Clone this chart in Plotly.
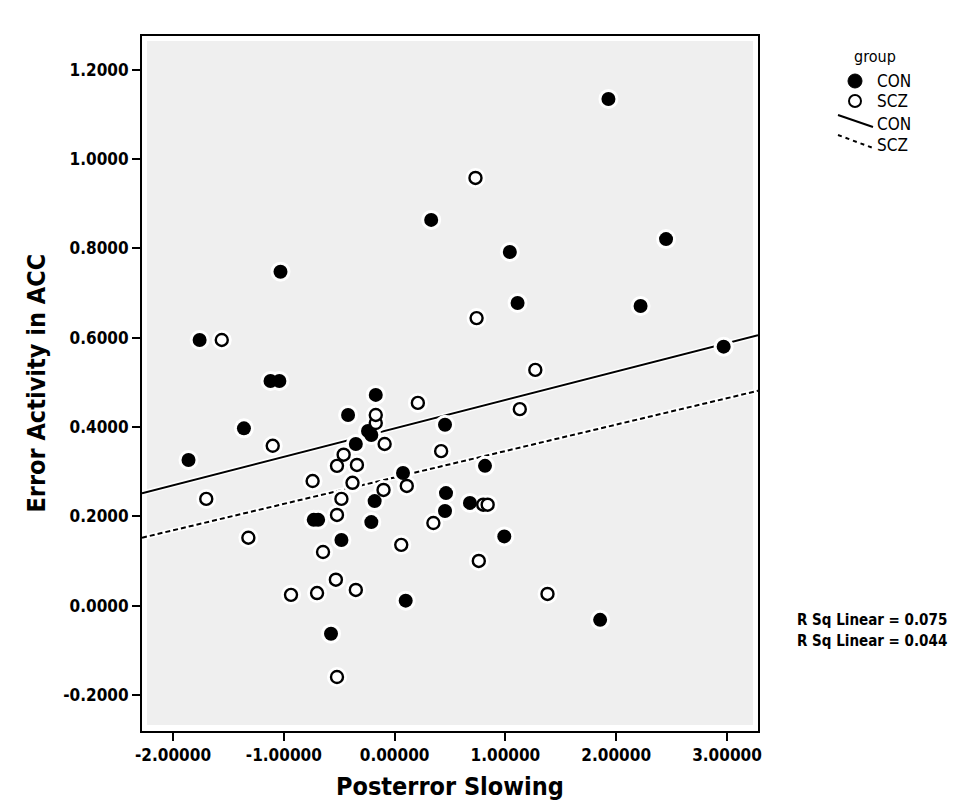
import plotly.graph_objects as go

# ---------------- data ----------------
con_x = [1.93, 0.33, 1.04, 2.45, -1.03, 1.11, 2.22, -1.76, -1.12, -1.04, 2.97, -1.36, -1.86,
         -0.42, -0.24, -0.21, -0.35, 0.455, 0.076, 0.816, 0.464, 0.68, 0.455, -0.18, -0.73,
         -0.69, -0.21, -0.48, 0.99, 0.10, -0.574, 1.855, -0.17]
con_y = [1.135, 0.864, 0.792, 0.821, 0.748, 0.678, 0.671, 0.595, 0.503, 0.503, 0.58, 0.397, 0.326,
         0.427, 0.391, 0.382, 0.362, 0.405, 0.297, 0.313, 0.252, 0.23, 0.212, 0.234, 0.192,
         0.192, 0.187, 0.147, 0.155, 0.011, -0.063, -0.032, 0.472]

scz_x = [0.73, 0.74, -1.56, 1.27, 0.21, 1.13, -0.17, -0.17, -1.10, -0.09, 0.42, -0.46, -0.52,
         -0.34, -0.74, -0.38, -0.10, 0.11, -0.48, -1.70, 0.80, 0.84, -0.52, 0.35, 0.06, -1.32,
         -0.646, 0.76, -0.935, -0.70, -0.53, -0.35, 1.38, -0.52]
scz_y = [0.958, 0.644, 0.595, 0.528, 0.454, 0.44, 0.409, 0.427, 0.358, 0.362, 0.346, 0.338, 0.313,
         0.315, 0.279, 0.275, 0.259, 0.268, 0.239, 0.239, 0.226, 0.226, 0.203, 0.185, 0.136, 0.152,
         0.12, 0.10, 0.024, 0.028, 0.058, 0.035, 0.026, -0.16]

fit_groups = ["CON", "SCZ"]
fit_intercept = [0.397, 0.287]
fit_slope = [0.0637, 0.0592]
r_sq = ["0.075", "0.044"]

x_tickvals = [-2, -1, 0, 1, 2, 3]
x_ticktext = ["-2.00000", "-1.00000", "0.00000", "1.00000", "2.00000", "3.00000"]
y_tickvals = [-0.2, 0.0, 0.2, 0.4, 0.6, 0.8, 1.0, 1.2]
y_ticktext = ["-0.2000", "0.0000", "0.2000", "0.4000", "0.6000", "0.8000", "1.0000", "1.2000"]

x_range = [-2.28, 3.28]
y_range = [-0.281, 1.276]

# ---------------- layout geometry ----------------
W, H = 979, 808
L, R, T, B = 134, 229, 28, 85
PW, PH = W - L - R, H - T - B
FONT = "DejaVu Sans Condensed, DejaVu Sans, sans-serif"


def px(p):
    return (p - L) / PW


def py(p):
    return (H - B - p) / PH


fig = go.Figure()

# regression lines (white underlay + line)
dashes = ["solid", "5px,3px"]
for g, a, b, d in zip(fit_groups, fit_intercept, fit_slope, dashes):
    xs = list(x_range)
    ys = [a + b * v for v in xs]
    fig.add_trace(go.Scatter(x=xs, y=ys, mode="lines", line=dict(color="white", width=5),
                             hoverinfo="skip", showlegend=False))
    fig.add_trace(go.Scatter(x=xs, y=ys, mode="lines", name=g,
                             line=dict(color="black", width=2, dash=d), showlegend=False))

# halos
fig.add_trace(go.Scatter(x=con_x + scz_x, y=con_y + scz_y, mode="markers",
                         marker=dict(size=20, color="white"), hoverinfo="skip", showlegend=False))
# CON filled
fig.add_trace(go.Scatter(x=con_x, y=con_y, mode="markers", name="CON",
                         marker=dict(size=14, color="black", line=dict(width=0)), showlegend=False))
# SCZ open
fig.add_trace(go.Scatter(x=scz_x, y=scz_y, mode="markers", name="SCZ",
                         marker=dict(size=12, color="white", line=dict(width=2.4, color="black")),
                         showlegend=False))

shapes = []
# inner gray panel
shapes.append(dict(type="rect", xref="paper", yref="paper", x0=5 / PW, x1=1 - 5 / PW,
                   y0=6 / PH, y1=1 - 5 / PH, fillcolor="#efefef", line=dict(width=0), layer="below"))

# custom legend symbols
r = 7
shapes.append(dict(type="circle", xref="paper", yref="paper", x0=px(847 - r), x1=px(847 + r),
                   y0=py(73 + r), y1=py(73 - r), fillcolor="black", line=dict(color="black", width=1)))
r = 6
shapes.append(dict(type="circle", xref="paper", yref="paper", x0=px(847 - r), x1=px(847 + r),
                   y0=py(93 + r), y1=py(93 - r), fillcolor="white", line=dict(color="black", width=2)))
shapes.append(dict(type="line", xref="paper", yref="paper", x0=px(830), y0=py(107), x1=px(865), y1=py(119),
                   line=dict(color="black", width=2)))
shapes.append(dict(type="line", xref="paper", yref="paper", x0=px(830), y0=py(127), x1=px(865), y1=py(140),
                   line=dict(color="black", width=2, dash="4px,4px")))

ann = []
ann.append(dict(text="group", x=px(867), y=py(48), xref="paper", yref="paper", showarrow=False,
                xanchor="center", yanchor="middle", font=dict(family=FONT, size=16, color="black")))
for name, yy in zip(["CON", "SCZ", "CON", "SCZ"], [73, 93, 116, 137]):
    ann.append(dict(text=name, x=px(867), y=py(yy), xref="paper", yref="paper", showarrow=False,
                    xanchor="left", yanchor="middle", font=dict(family=FONT, size=17, color="black")))
for val, yy in zip(r_sq, [612, 633]):
    ann.append(dict(text="R Sq Linear = " + val, x=px(787), y=py(yy), xref="paper", yref="paper",
                    showarrow=False, xanchor="left", yanchor="middle",
                    font=dict(family=FONT, size=15, color="black", weight="bold")))
# axis titles
ann.append(dict(text="<b>Posterror Slowing</b>", x=0.5, y=py(778), xref="paper", yref="paper",
                showarrow=False, xanchor="center", yanchor="middle",
                font=dict(family=FONT, size=25, color="black")))
ann.append(dict(text="<b>Error Activity in ACC</b>", x=px(28), y=0.5, xref="paper", yref="paper",
                showarrow=False, xanchor="center", yanchor="middle", textangle=-90,
                font=dict(family=FONT, size=25, color="black")))

axis_common = dict(showgrid=False, zeroline=False, showline=True, linecolor="black", linewidth=2,
                   mirror=True, ticks="outside", ticklen=8, tickwidth=2, tickcolor="black",
                   tickfont=dict(family=FONT, size=17, color="black", weight="bold"))

fig.update_layout(
    width=W, height=H,
    margin=dict(l=L, r=R, t=T, b=B),
    paper_bgcolor="white", plot_bgcolor="white",
    shapes=shapes, annotations=ann,
    xaxis=dict(range=x_range, tickvals=x_tickvals, ticktext=x_ticktext, **axis_common),
    yaxis=dict(range=y_range, tickvals=y_tickvals, ticktext=y_ticktext, **axis_common),
    showlegend=False,
)

fig.write_html("out.html")
